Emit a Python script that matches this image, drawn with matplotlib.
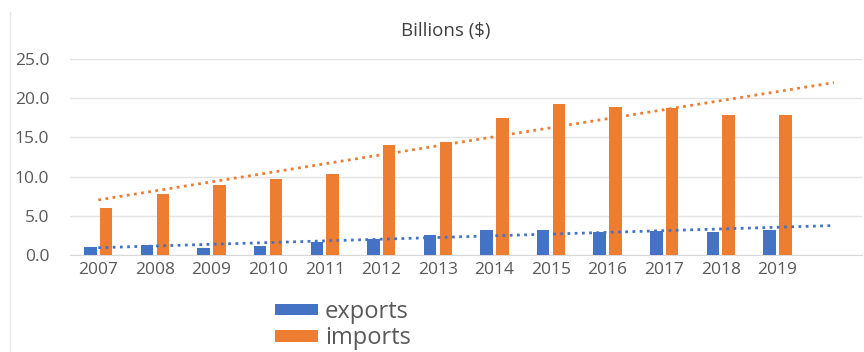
import numpy as np
from matplotlib import pyplot as plt
from matplotlib.lines import Line2D

years = ["2007", "2008", "2009", "2010", "2011", "2012", "2013",
         "2014", "2015", "2016", "2017", "2018", "2019"]
exports = [1.0, 1.3, 0.85, 1.15, 1.7, 2.0, 2.6, 3.15, 3.2, 2.9, 3.1, 2.9, 3.2]
imports = [6.0, 7.8, 8.9, 9.7, 10.3, 14.0, 14.4, 17.5, 19.2, 18.9, 18.7, 17.8, 17.9]
yticks = [0, 5, 10, 15, 20, 25]

blue = "#4472C4"
orange = "#ED7D31"
grey = "#595959"

plt.rcParams["font.family"] = ["Open Sans", "DejaVu Sans"]

fig = plt.figure(figsize=(8.64, 3.52), dpi=100)
ax = fig.add_axes([0.081, 0.2756, 0.917, 0.5568])

x = np.arange(len(years))
w = 0.22
ax.bar(x - 0.14, exports, w, color=blue, label="exports", zorder=3)
ax.bar(x + 0.14, imports, w, color=orange, label="imports", zorder=3)

# linear trendlines, forecast forward one period
xt = np.arange(len(years) + 1)
for vals, c in [(imports, orange), (exports, blue)]:
    k, b = np.polyfit(x, vals, 1)
    ax.plot([xt[0], xt[-1]], [b, k * xt[-1] + b], color=c, lw=2,
            linestyle=(0, (1, 1.6)), zorder=4)

ax.set_xlim(-0.5, 13.5)
ax.set_ylim(0, 25)
ax.set_xticks(x)
ax.set_xticklabels(years)
ax.set_yticks(yticks)
ax.set_yticklabels([f"{v:.1f}" for v in yticks])
ax.tick_params(axis="y", length=0, pad=15, labelsize=12.5, labelcolor=grey)
ax.tick_params(axis="x", length=0, pad=5, labelsize=12.5, labelcolor=grey)
ax.grid(axis="y", color="#E3E3E3", lw=1, zorder=0)
for s in ["top", "right", "left"]:
    ax.spines[s].set_visible(False)
ax.spines["bottom"].set_color("#D9D9D9")

fig.text(0.516, 0.913, "Billions ($)", ha="center", va="center",
         fontsize=13.5, color="#404040")

fig.legend(loc="center", bbox_to_anchor=(0.397, 0.076), frameon=False,
           fontsize=17, handlelength=1.8, handleheight=0.35,
           labelspacing=0.1, handletextpad=0.3, borderpad=0,
           labelcolor=grey)

fig.add_artist(Line2D([0.011, 0.011], [0, 0.965], color="#E6E6E6", lw=1))

plt.savefig("out.png", dpi=100)
